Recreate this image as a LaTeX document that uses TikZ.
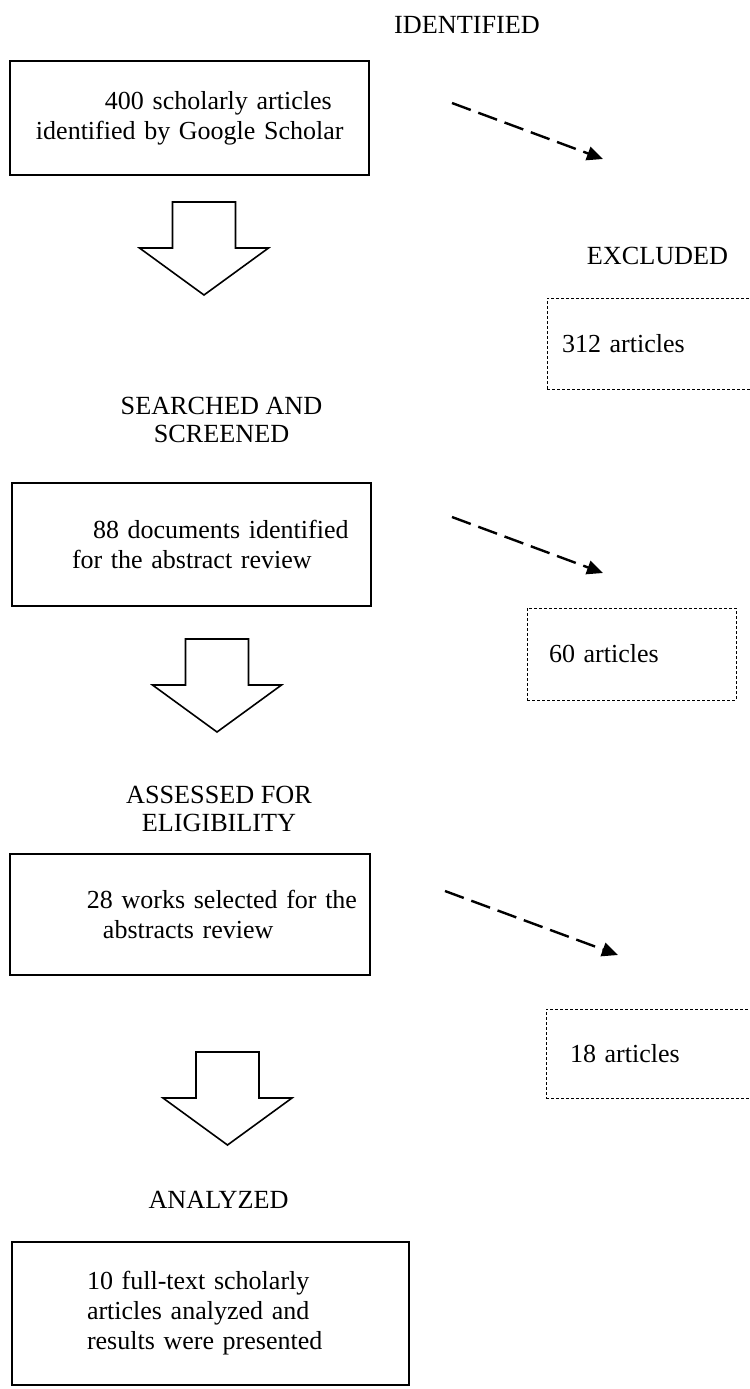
\documentclass[tikz,border=0pt]{standalone}
\usepackage{fontspec}
\setmainfont{Liberation Serif}
\usepackage{tikz}
\usetikzlibrary{arrows.meta,positioning}

\tikzset{
  heading/.style={align=center, inner sep=0pt, font=\fontsize{13.1}{14}\selectfont},
  stagebox/.style={draw, line width=0.8pt, inner xsep=0pt, inner ysep=0pt, align=left,
    font=\fontsize{13}{15}\selectfont},
  exclbox/.style={draw, line width=0.5pt, dash pattern=on 1.5pt off 1pt, inner xsep=0pt,
    inner ysep=0pt, align=left, font=\fontsize{13}{15}\selectfont},
  exclarrow/.style={line width=1.2pt, dash pattern=on 10pt off 4pt,
    -{Triangle[length=8pt,width=7pt]}},
  bigarrow/.style={draw, line width=0.8pt, line join=miter, fill=white}
}

\begin{document}
\begin{tikzpicture}[x=0.5pt, y=-0.5pt]
  \useasboundingbox (0,0) rectangle (750,1389);
  % Define nodes
  \node[heading] (identified) at (467,25) {IDENTIFIED};
  \node[stagebox, text width=179.5pt, minimum height=57pt] (found) at (189.5,118)
    {\hspace*{47.5pt}400 scholarly articles\\\hspace*{13pt}identified by Google Scholar};
  \node[heading] (excluded) at (657.5,256) {EXCLUDED};
  \node[exclbox, text width=106.5pt, minimum height=45.5pt] (excl1) at (653.5,343.5)
    {\hspace*{7.5pt}312 articles};

  \node[heading] (screened) at (221.5,420) {SEARCHED AND\\SCREENED};
  \node[stagebox, text width=179.5pt, minimum height=61.5pt] (abstracts) at (191.5,544.5)
    {\hspace*{40.5pt}88 documents identified\\\hspace*{30pt}for the abstract review};
  \node[exclbox, text width=104.5pt, minimum height=46pt] (excl2) at (631.5,654)
    {\hspace*{11pt}60 articles};

  \node[heading] (assessed) at (219,809) {ASSESSED FOR\\ELIGIBILITY};
  \node[stagebox, text width=180pt, minimum height=60.5pt] (selected) at (190,914.5)
    {\hspace*{38.5pt}28 works selected for the\\\hspace*{46.5pt}abstracts review};
  \node[exclbox, text width=107pt, minimum height=44.5pt] (excl3) at (653,1053.5)
    {\hspace*{12pt}18 articles};

  \node[heading] (analyzed) at (218.5,1200) {ANALYZED};
  \node[stagebox, text width=198.5pt, minimum height=71.5pt] (fulltext) at (210.5,1313.5)
    {\hspace*{37.5pt}10 full-text scholarly\\\hspace*{37.5pt}articles analyzed and\\\hspace*{37.5pt}results were presented};

  % Dashed arrows to the excluded side
  \coordinate (from1) at (452,103);
  \coordinate (to1) at (603,159);
  \coordinate (from2) at (452,517);
  \coordinate (to2) at (603,573);
  \coordinate (from3) at (445,891);
  \coordinate (to3) at (618,955);
  \draw[exclarrow] (from1) -- (to1);
  \draw[exclarrow] (from2) -- (to2);
  \draw[exclarrow] (from3) -- (to3);

  % Block arrows between stages
  \foreach \ax/\ay in {204/202, 217/639, 227.5/1052} {
    \draw[bigarrow, shift={(\ax,\ay)}] (-31.5,0) -- (31.5,0) -- (31.5,46) -- (64.5,46)
      -- (0,93) -- (-64.5,46) -- (-31.5,46) -- cycle;
  }
\end{tikzpicture}
\end{document}
